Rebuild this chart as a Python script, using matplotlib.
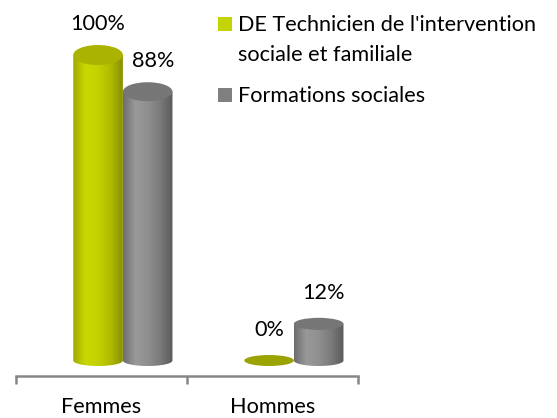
import numpy as np
import matplotlib
matplotlib.use("Agg")
import matplotlib.pyplot as plt
from matplotlib.colors import LinearSegmentedColormap
from matplotlib.patches import Polygon, Ellipse, Rectangle

categories = ["Femmes", "Hommes"]
series_names = [["DE Technicien de l'intervention", "sociale et familiale"],
                ["Formations sociales"]]
tisf = [100, 0]
formations = [88, 12]
values = [tisf, formations]

plt.rcParams["font.family"] = ["Lato", "DejaVu Sans"]
FS = 15.6

# side stops (left -> right) and top colour for each series
side_stops = [
    ["#a0aa00", "#c9d800", "#c4d100", "#b0bb00", "#8a9000"],
    ["#6e6e6e", "#999999", "#8f8f8f", "#7a7a7a", "#5a5a5a"],
]
top_col = ["#a9b300", "#767676"]
legend_col = ["#c3d400", "#808080"]

BW = 0.29          # cylinder width (category units)
OFFS = [-0.02, 0.27]


def half_h(v):
    # apparent half-height of the ellipse caps (perspective)
    return (5.5 + 4.5 * v / 100.0) * 0.327


fig = plt.figure(figsize=(5.57, 4.18), dpi=100)
ax = fig.add_axes([16 / 557, 42 / 418, 342 / 557, 356 / 418])
ax.set_xlim(0, 2)
ax.set_ylim(-5.07, 111.46)

for s, vals in enumerate(values):
    cmap = LinearSegmentedColormap.from_list(f"c{s}", side_stops[s])
    grad = np.linspace(0, 1, 200).reshape(1, -1)
    for i, v in enumerate(vals):
        cx = i + 0.5 + OFFS[s]
        x0, x1 = cx - BW / 2, cx + BW / 2
        hb = half_h(0)
        if v > 0:
            t = np.linspace(0, np.pi, 60)
            bottom = np.column_stack([cx + BW / 2 * np.cos(t), -hb * np.sin(t)])
            pts = np.vstack([[x0, v], [x1, v], bottom])
            clip = Polygon(pts, closed=True, transform=ax.transData)
            im = ax.imshow(grad, cmap=cmap, aspect="auto",
                           extent=(x0, x1, -hb, v), zorder=2 + s)
            im.set_clip_path(clip)
            ax.add_patch(Ellipse((cx, v), BW, 2 * half_h(v),
                                 facecolor=top_col[s], edgecolor="none",
                                 zorder=2.5 + s))
        else:
            ax.add_patch(Ellipse((cx, v), BW, 2 * hb,
                                 facecolor="#9ba300", edgecolor="none",
                                 zorder=2 + s))
        lx = cx + (0.03 if s == 1 else 0.0)
        ax.text(lx, v + 10, f"{v}%", ha="center", va="center",
                fontsize=FS, color="#000000", zorder=10)

ax.set_xlim(0, 2)
ax.set_ylim(-5.07, 111.46)

for side in ("top", "right", "left"):
    ax.spines[side].set_visible(False)
ax.spines["bottom"].set_color("#868686")
ax.spines["bottom"].set_linewidth(1.8)
ax.set_yticks([])
ax.set_xticks([0, 1, 2])
ax.set_xticklabels([])
ax.tick_params(axis="x", which="major", direction="out", length=6,
               width=1.8, color="#868686")
ax.set_xticks([0.5, 1.5], minor=True)
ax.set_xticklabels(categories, minor=True, fontsize=FS)
ax.tick_params(axis="x", which="minor", length=0, pad=15)
ax.patch.set_alpha(0)

# legend drawn by hand (square aligned with first line of text)
leg_y = [17, 88]
for s, lines in enumerate(series_names):
    y = leg_y[s]
    fig.patches.append(Rectangle((218 / 557, 1 - (y + 14) / 418), 14 / 557, 14 / 418,
                                 transform=fig.transFigure, facecolor=legend_col[s],
                                 edgecolor="none"))
    for k, line in enumerate(lines):
        base = y + 14 + 30 * k
        fig.text(238 / 557, 1 - base / 418, line, ha="left", va="baseline",
                 fontsize=FS)

fig.savefig("out.png", dpi=100)
